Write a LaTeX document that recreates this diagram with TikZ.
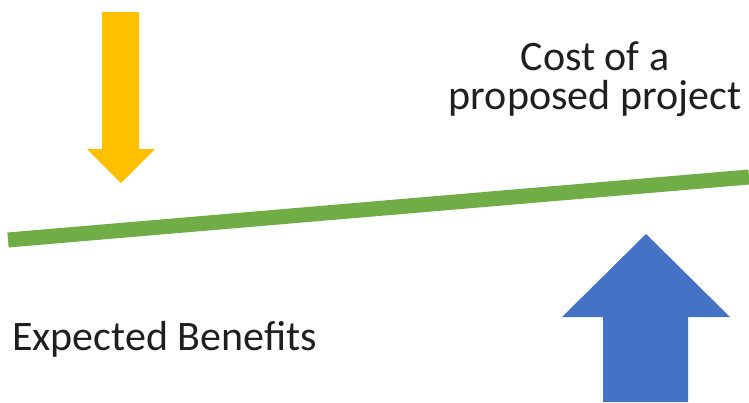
\documentclass[tikz,border=0pt]{standalone}
\usepackage{fontspec}
\setmainfont{Carlito}
\usepackage{tikz}
\usetikzlibrary{positioning}
\definecolor{costgold}{HTML}{FFC000}
\definecolor{benefitblue}{HTML}{4472C4}
\definecolor{beamgreen}{HTML}{70AD47}
\tikzset{
    costarrow/.style={fill=costgold},
    benefitarrow/.style={fill=benefitblue},
    beamline/.style={draw=beamgreen, line width=15pt},
    labeltext/.style={font=\fontsize{42}{39}\selectfont, text=black!88, inner sep=0pt},
}
\begin{document}
\begin{tikzpicture}[x=1pt, y=-1pt]
    \useasboundingbox (0,0) rectangle (749,402);
    % down arrow (cost)
    \fill[costarrow] (102,12) -- (139,12) -- (139,149) -- (155,149) -- (121,183)
        -- (87,149) -- (102,149) -- cycle;
    % up arrow (benefits)
    \fill[benefitarrow] (603,402) -- (603,317) -- (562,317) -- (646,234)
        -- (730,317) -- (688,317) -- (688,402) -- cycle;
    % balance beam
    \coordinate (beamleft) at (8,240);
    \coordinate (beamright) at (749,177);
    \draw[beamline] (beamleft) -- (beamright);
    % labels
    \node[labeltext, align=center, anchor=base] (costlabel) at (595,109)
        {Cost of a\\proposed project};
    \node[labeltext, anchor=base west] (benefitlabel) at (12,350) {Expected Benefits};
\end{tikzpicture}
\end{document}
